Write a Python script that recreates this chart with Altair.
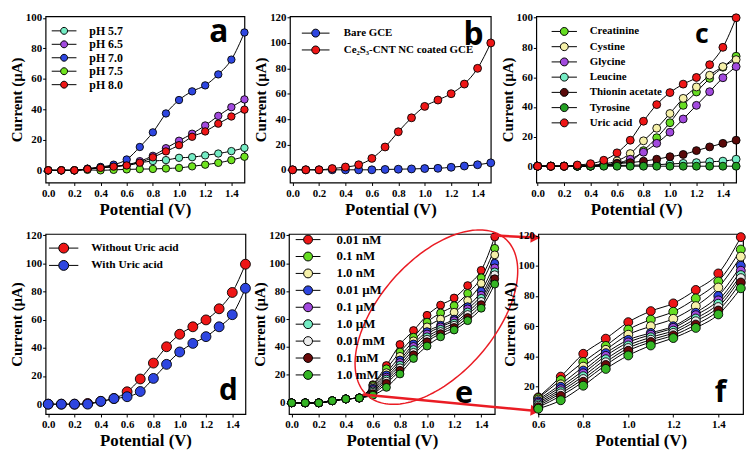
import altair as alt
import numpy as np
import pandas as pd

POTENTIAL = [0.0, 0.1, 0.2, 0.3, 0.4, 0.5, 0.6, 0.7, 0.8, 0.9, 1.0, 1.1, 1.2, 1.3, 1.4, 1.5]

# ---------------- (a) pH study ----------------
A_NAMES = ["pH 5.7", "pH 6.5", "pH 7.0", "pH 7.5", "pH 8.0"]
A_COLORS = ["#74ecc4", "#a24ade", "#2e46e0", "#6fe31f", "#ee1616"]
A_PH57 = [0, 0, 0, 1.0, 1.5, 2.5, 3.5, 5.0, 6.1, 6.7, 8.2, 8.6, 9.8, 11.0, 12.6, 14.7]
A_PH65 = [0, 0, 0, 1.0, 2.0, 2.6, 3.6, 6.0, 9.5, 14.5, 19.4, 24.0, 29.4, 35.7, 41.4, 46.5]
A_PH70 = [0, 0, 0, 1.0, 2.2, 3.7, 7.1, 15.3, 24.9, 37.3, 46.1, 51.8, 55.7, 62.9, 72.6, 90.4]
A_PH75 = [0, 0, 0, 0.3, 0.0, 0.3, 0.6, 0.8, 0.9, 1.2, 1.6, 2.6, 3.7, 4.9, 6.7, 8.9]
A_PH80 = [0, 0, 0, 0.8, 1.6, 2.4, 3.2, 5.0, 8.5, 12.4, 16.5, 22.0, 25.5, 30.6, 35.3, 39.8]

# ---------------- (b) electrodes ----------------
B_NAMES = ["Bare GCE", "Ce\u2082S\u2083-CNT NC coated GCE"]
B_COLORS = ["#2e46e0", "#ee1616"]
B_BARE = [0, 0, 0, 0, 0, 0, 0, 0.3, 0.5, 0.7, 1.0, 1.2, 2.0, 3.0, 4.0, 5.5]
B_COATED = [0, 0, 0, 1.0, 2.2, 4.0, 9.0, 18.0, 30.0, 41.0, 50.0, 55.0, 60.0, 67.6, 80.0, 100.0]

# ---------------- (c) interferents ----------------
C_NAMES = ["Creatinine", "Cystine", "Glycine", "Leucine", "Thionin acetate", "Tyrosine", "Uric acid"]
C_COLORS = ["#66dd22", "#f5f0a8", "#a24ade", "#74ecc4", "#5a0a0a", "#23a023", "#ee1616"]
C_CREATININE = [0, 0, 0, 0, 0, 0.5, 2.0, 3.5, 10.5, 19.2, 29.3, 41.0, 50.0, 59.2, 66.7, 74.1]
C_CYSTINE = [0, 0, 0, 0, 0.5, 1.5, 3.6, 8.5, 17.1, 25.6, 35.5, 45.7, 53.4, 61.3, 67.1, 71.8]
C_GLYCINE = [0, 0, 0, 0, 0, 0.5, 2.0, 4.7, 9.4, 15.4, 22.9, 31.8, 41.0, 50.2, 59.6, 67.1]
C_LEUCINE = [0, 0, 0, 0, 0.2, 0.3, 0.5, 0.6, 0.8, 1.0, 1.5, 1.9, 2.4, 3.0, 3.4, 4.7]
C_THIONIN = [0, 0, 0, 0, 0.5, 1.0, 1.7, 2.4, 3.4, 4.7, 6.4, 7.9, 10.5, 13.0, 15.4, 17.5]
C_TYROSINE = [0, 0, 0, 0, 0, 0, 0, 0, 0, 0, 0, 0, 0, 0, 0, 0]
C_URIC = [0, 0, 0, 0.8, 1.7, 4.0, 9.0, 17.5, 30.3, 41.5, 49.6, 55.3, 59.8, 68.4, 80.1, 100.0]

# ---------------- (d) with / without uric acid ----------------
D_NAMES = ["Without Uric acid", "With Uric acid"]
D_COLORS = ["#ee1616", "#2e46e0"]
D_WITHOUT = [0, 0, 0, 0.5, 2.0, 4.0, 8.8, 17.9, 29.2, 40.8, 49.7, 55.0, 59.9, 67.8, 79.4, 99.5]
D_WITH = [0, 0, 0, 0, 2.0, 4.0, 5.3, 9.0, 18.3, 28.3, 37.1, 43.2, 48.0, 55.0, 63.6, 82.4]

# ---------------- (e)/(f) concentrations ----------------
E_NAMES = ["0.01 nM", "0.1 nM", "1.0 nM", "0.01 \u00b5M", "0.1 \u00b5M", "1.0 \u00b5M",
           "0.01 mM", "0.1 mM", "1.0 mM"]
E_COLORS = ["#ee1616", "#66dd22", "#f5f0a8", "#2e46e0", "#a24ade", "#74ecc4",
            "#ececec", "#6a0a0a", "#35b525"]
E_S1 = [0, 0, 0, 1.5, 2.8, 3.5, 13.0, 26.7, 41.8, 51.8, 62.7, 70.0, 75.1, 84.0, 94.9, 118.9]
E_S2 = [0, 0, 0, 1.5, 2.8, 3.5, 12.5, 24.4, 36.4, 47.0, 57.8, 64.4, 69.6, 78.4, 89.6, 110.7]
E_S3 = [0, 0, 0, 1.5, 2.8, 3.5, 11.5, 21.6, 33.3, 44.4, 54.4, 60.0, 64.9, 73.3, 85.6, 106.0]
E_S4 = [0, 0, 0, 1.5, 2.8, 3.5, 10.5, 20.0, 30.7, 42.2, 51.0, 55.6, 60.0, 68.9, 80.0, 100.0]
E_S5 = [0, 0, 0, 1.5, 2.8, 3.5, 9.5, 18.4, 28.9, 40.4, 49.3, 54.4, 58.9, 67.3, 77.1, 96.7]
E_S6 = [0, 0, 0, 1.5, 2.8, 3.5, 8.5, 17.0, 27.0, 38.2, 47.3, 52.7, 57.1, 65.1, 74.9, 93.8]
E_S7 = [0, 0, 0, 1.5, 2.8, 3.5, 7.5, 15.6, 25.1, 36.2, 45.6, 51.1, 55.6, 63.3, 72.7, 91.8]
E_S8 = [0, 0, 0, 1.5, 2.8, 3.5, 6.5, 14.0, 23.3, 34.4, 43.8, 49.6, 54.0, 61.1, 70.4, 88.9]
E_S9 = [0, 0, 0, 1.5, 2.8, 3.5, 5.5, 11.1, 20.7, 31.8, 40.7, 47.3, 52.2, 58.9, 67.8, 85.1]

X_TICKS = [0.0, 0.2, 0.4, 0.6, 0.8, 1.0, 1.2, 1.4]
F_X_TICKS = [0.6, 0.8, 1.0, 1.2, 1.4]
Y_TICKS_100 = [0, 20, 40, 60, 80, 100]
Y_TICKS_120 = [0, 20, 40, 60, 80, 100, 120]
F_Y_TICKS = [20, 40, 60, 80, 100, 120]

# zoom annotation (ellipse in panel e, reference pixel geometry -> data units)
RED = "#ea1c24"
ELL_CENTER = (1.069, 61.4)
ELL_A_PX, ELL_B_PX, ELL_ROT_DEG = 105.0, 58.0, 48.0
E_PX_PER_X, E_PX_PER_Y = 137.2, 1.395
ARROW_X = [1.475, 0.525]
ARROW_Y = [120.0, 6.0]
ARROW_X2 = [1.83, 1.83]
ARROW_Y2 = [118.3, -6.0]
HEAD_X = [1.80, 1.80]
HEAD_Y = [118.4, -5.6]
HEAD_ANGLE = [3, 5]


def long_frame(xs, names, series):
    rows = []
    for k, (n, ys) in enumerate(zip(names, series)):
        for x, y in zip(xs, ys):
            rows.append({"x": x, "y": y, "s": n, "k": k})
    return pd.DataFrame(rows)


def sym_path(k):
    return (f"M{-k:.3f},0L-1,0M1,0L{k:.3f},0"
            "M1,0A1,1,0,1,1,-1,0A1,1,0,1,1,1,0Z")


def panel(df, names, colors, xdom, ydom, xticks, yticks, w, h, psize, leg, letter, extra=None):
    xs = alt.Scale(domain=xdom, nice=False, zero=False)
    ys = alt.Scale(domain=ydom, nice=False, zero=False)
    ex = alt.X("x:Q", scale=xs, axis=alt.Axis(values=xticks, format=".1f", title="Potential (V)"))
    ey = alt.Y("y:Q", scale=ys, axis=alt.Axis(values=yticks, format="d", title="Current (\u00b5A)"))
    lines = alt.Chart(df).mark_line(color="black", strokeWidth=1, interpolate="monotone",
                                    clip=False).encode(x=ex, y=ey, detail="s:N")
    if leg is None:
        legend = None
    else:
        lx, ly, ss, k, so, lo, fs, rp = leg
        legend = alt.Legend(title=None, orient="none", legendX=lx, legendY=ly,
                            symbolType=sym_path(k), symbolSize=ss,
                            symbolStrokeColor="black", symbolStrokeWidth=1,
                            labelFont="Liberation Serif", labelFontWeight="bold",
                            labelFontSize=fs, labelColor="black", rowPadding=rp,
                            labelOffset=lo, padding=0, symbolOffset=so, labelLimit=400)
    pts = alt.Chart(df).mark_point(shape="circle", filled=True, stroke="black", strokeWidth=0.9,
                                   size=psize, opacity=1, clip=False).encode(
        x=ex, y=ey,
        fill=alt.Fill("s:N", scale=alt.Scale(domain=names, range=colors), legend=legend),
        order=alt.Order("k:Q"))
    tx, ty, tt, tfs = letter
    lab = alt.Chart(pd.DataFrame({"x": [tx], "y": [ty], "t": [tt]})).mark_text(
        font="Open Sans", fontWeight="bold", fontSize=tfs, align="center",
        baseline="alphabetic", color="black").encode(x=ex, y=ey, text="t:N")
    layers = [lines, pts, lab]
    if extra is not None:
        layers += extra(ex, ey)
    return alt.layer(*layers).properties(width=w, height=h)


def zoom_marks(ex, ey):
    t = np.linspace(0, 2 * np.pi, 181)
    th = np.deg2rad(ELL_ROT_DEG)
    dx = ELL_A_PX * np.cos(t) * np.cos(th) + ELL_B_PX * np.sin(t) * np.sin(th)
    dy = -ELL_A_PX * np.cos(t) * np.sin(th) + ELL_B_PX * np.sin(t) * np.cos(th)
    ell = pd.DataFrame({"x": ELL_CENTER[0] + dx / E_PX_PER_X,
                        "y": ELL_CENTER[1] - dy / E_PX_PER_Y,
                        "i": np.arange(len(t))})
    ellipse = alt.Chart(ell).mark_line(color=RED, strokeWidth=1.5, clip=False).encode(
        x=ex, y=ey, order="i:Q")
    arr = pd.DataFrame({"x": ARROW_X, "y": ARROW_Y, "x2": ARROW_X2, "y2": ARROW_Y2})
    rules = alt.Chart(arr).mark_rule(color=RED, strokeWidth=2.6, clip=False).encode(
        x=ex, y=ey, x2="x2:Q", y2="y2:Q")
    hd = pd.DataFrame({"x": HEAD_X, "y": HEAD_Y, "a": HEAD_ANGLE})
    heads = alt.Chart(hd).mark_point(shape="triangle-right", filled=True, color=RED, size=120,
                                     opacity=1, clip=False).encode(
        x=ex, y=ey, angle=alt.Angle("a:Q", scale=None))
    return [ellipse, rules, heads]


df_a = long_frame(POTENTIAL, A_NAMES, [A_PH57, A_PH65, A_PH70, A_PH75, A_PH80])
df_b = long_frame(POTENTIAL, B_NAMES, [B_BARE, B_COATED])
df_c = long_frame(POTENTIAL, C_NAMES, [C_CREATININE, C_CYSTINE, C_GLYCINE, C_LEUCINE,
                                       C_THIONIN, C_TYROSINE, C_URIC])
df_d = long_frame(POTENTIAL, D_NAMES, [D_WITHOUT, D_WITH])
df_e = long_frame(POTENTIAL, E_NAMES, [E_S1, E_S2, E_S3, E_S4, E_S5, E_S6, E_S7, E_S8, E_S9])
df_f = df_e[df_e["x"] >= 0.6].reset_index(drop=True)

# legend tuple: (x, y, symbol size, line half-length, symbol offset, label offset, font size, row pad)
pa = panel(df_a, A_NAMES, A_COLORS, [-0.02, 1.5], [-8, 101], X_TICKS, Y_TICKS_100, 201, 168, 56,
           (5.7, 8.7, 49, 3.57, 7, 19.5, 12, 1.6), (1.305, 84, "a", 32))
pb = panel(df_b, B_NAMES, B_COLORS, [-0.02, 1.5], [-10, 121], X_TICKS, Y_TICKS_120, 203, 168, 64,
           (11.5, 11.5, 64, 3.5, 9, 23, 11, 4), (1.37, 98.5, "b", 32))
pc = panel(df_c, C_NAMES, C_COLORS, [-0.01, 1.5], [-11, 101], X_TICKS, Y_TICKS_100, 202, 168, 64,
           (15, 9.8, 64, 3.2, 7.8, 20.2, 11, 2.4), (1.242, 82.7, "c", 27))
pdd = panel(df_d, D_NAMES, D_COLORS, [-0.02, 1.5], [-7, 121], X_TICKS, Y_TICKS_120, 202, 182, 100,
            (3, 8.55, 100, 2.96, 9.55, 22, 11.5, 2.5), (1.371, 3.3, "d", 30))
pe = panel(df_e, E_NAMES, E_COLORS, [-0.02, 1.5], [-8, 121], X_TICKS, Y_TICKS_120, 208, 182, 64,
           (6.3, -0.8, 81, 2.78, 6.5, 22.2, 13, 3.1), (1.273, 0, "e", 31), extra=zoom_marks)
pf = panel(df_f, E_NAMES, E_COLORS, [0.6, 1.51], [2, 121], F_X_TICKS, F_Y_TICKS, 207, 182, 81,
           None, (1.41, 9.8, "f", 30))

row1 = alt.hconcat(pa, pb, pc, spacing=46, bounds="flush").resolve_scale(
    fill="independent").resolve_legend(fill="independent")
row2 = alt.hconcat(pdd, pe, pf, spacing=44, bounds="flush").resolve_scale(
    fill="independent").resolve_legend(fill="independent")

chart = alt.vconcat(row1, row2, spacing=8).resolve_scale(
    fill="independent").resolve_legend(fill="independent").properties(
    padding=0, background="white"
).configure_view(
    stroke="black", strokeWidth=1.2
).configure_axis(
    grid=False, domain=False, tickColor="black", tickSize=3, tickWidth=1,
    labelFont="Liberation Serif", labelFontWeight="bold", labelFontSize=11, labelColor="black",
    titleFont="Liberation Serif", titleFontWeight="bold", titleColor="black",
    labelFlush=False, labelOverlap=False
).configure_axisX(
    titleFontSize=17, labelPadding=2, titlePadding=3
).configure_axisY(
    titleFontSize=15, labelPadding=1, titlePadding=1
)

chart.save("out.html", embed_options={"renderer": "svg", "actions": False})
